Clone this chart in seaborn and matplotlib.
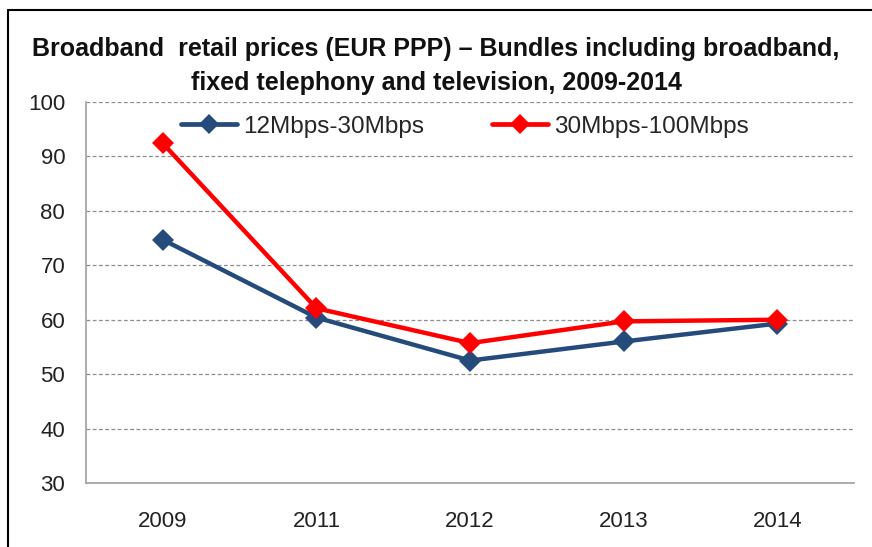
import matplotlib
matplotlib.use('Agg')
import matplotlib.pyplot as plt
import seaborn as sns
import pandas as pd
from matplotlib.lines import Line2D

# data
years = ['2009', '2011', '2012', '2013', '2014']
low_speed = [74.7, 60.4, 52.5, 56.0, 59.3]    # 12Mbps-30Mbps
high_speed = [92.4, 62.1, 55.7, 59.7, 60.0]   # 30Mbps-100Mbps
series_names = ['12Mbps-30Mbps', '30Mbps-100Mbps']
y_ticks = [30, 40, 50, 60, 70, 80, 90, 100]
title_lines = ['Broadband  retail prices (EUR PPP) \u2013 Bundles including broadband,',
               'fixed telephony and television, 2009-2014']

df = pd.DataFrame({
    'year': years * 2,
    'price': low_speed + high_speed,
    'series': [series_names[0]] * len(years) + [series_names[1]] * len(years),
})

sns.set_style('white')
plt.rcParams['font.family'] = ['Liberation Sans', 'DejaVu Sans']

fig = plt.figure(figsize=(8.72, 5.47), dpi=100)
ax = fig.add_axes([0.0986, 0.117, 0.881, 0.6965])

palette = {series_names[0]: '#254A7C', series_names[1]: '#FF0000'}
sns.lineplot(data=df, x='year', y='price', hue='series', palette=palette,
             marker='D', markersize=11, markeredgewidth=0, linewidth=3.2,
             sort=False, ax=ax, legend=False)

ax.set_xlim(-0.5, len(years) - 0.5)
ax.set_ylim(30, 100)
ax.set_yticks(y_ticks)
ax.set_xlabel('')
ax.set_ylabel('')
ax.yaxis.grid(True, linestyle=(0, (3, 2)), color='#8c8c8c', linewidth=0.9)
ax.set_axisbelow(True)
ax.tick_params(length=0, labelsize=16, colors='#222222')
ax.tick_params(axis='x', pad=20)
ax.tick_params(axis='y', pad=15)

for side in ['top', 'right']:
    ax.spines[side].set_visible(False)
for side in ['left', 'bottom']:
    ax.spines[side].set_color('#a0a0a0')
    ax.spines[side].set_linewidth(1.2)

handles = [Line2D([0], [0], color=palette[n], marker='D', markersize=10,
                  markeredgewidth=0, linewidth=3.4) for n in series_names]
ax.legend(handles, series_names, loc='center left', ncol=2, frameon=False,
          bbox_to_anchor=(0.095, 0.935), fontsize=17.5, handlelength=2.3,
          handletextpad=0.25, columnspacing=2.8)

# two-line title, each line placed on its own
for y, line in zip([0.911, 0.849], title_lines):
    fig.text(0.5, y, line, ha='center', va='center', fontsize=18,
             fontweight='bold', color='#111111')

# outer frame of the chart area (left and top edges visible)
fig.add_artist(Line2D([0.0092, 0.0092], [0, 0.982], color='black', linewidth=1.5))
fig.add_artist(Line2D([0.0092, 1.0], [0.982, 0.982], color='black', linewidth=1.5))

fig.savefig('out.png', dpi=100)
